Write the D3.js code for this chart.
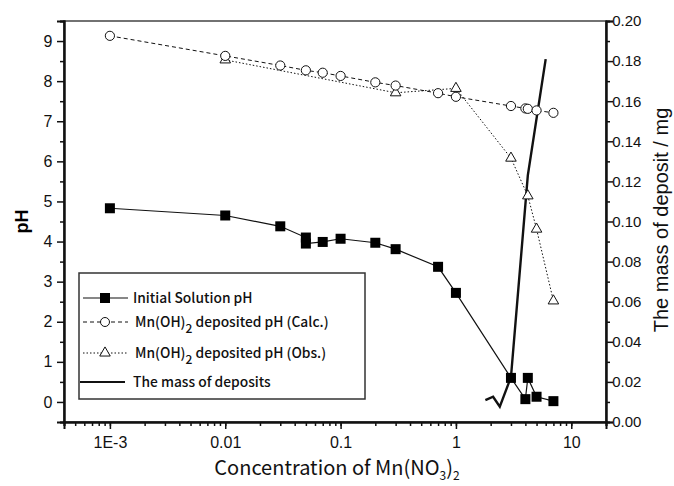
<!DOCTYPE html>
<html>
<head>
<meta charset="utf-8">
<script src="https://cdn.jsdelivr.net/npm/d3@7"></script>
<style>
body{margin:0;background:#fff;}
svg{display:block;}
</style>
</head>
<body>
<svg id="c" width="674" height="486"></svg>
<script>
// ---- data ----
const xInit = [0.001,0.01,0.03,0.05,0.05,0.07,0.1,0.2,0.3,0.7,1,3,4,4.2,5,7];
const pHInit = [4.83,4.65,4.38,4.1,3.95,3.99,4.07,3.97,3.81,3.37,2.72,0.6,0.07,0.6,0.13,0.02];
const xCalc = [0.001,0.01,0.03,0.05,0.07,0.1,0.2,0.3,0.7,1,3,4,4.2,5,7];
const pHCalc = [9.13,8.63,8.39,8.27,8.21,8.13,7.97,7.89,7.70,7.61,7.38,7.32,7.31,7.27,7.21];
const xObs = [0.01,0.3,1,3,4.2,5,7];
const pHObs = [8.53,7.71,7.82,6.08,5.14,4.31,2.52];
const xMass = [1.8,2.1,2.4,3,4.2,6];
const massVals = [0.0109,0.0126,0.0076,0.0224,0.123,0.181];
const xTickVals = [0.001,0.01,0.1,1,10];
const xTickLabels = ["1E-3","0.01","0.1","1","10"];
const pHTicks = [0,1,2,3,4,5,6,7,8,9];
const massTicks = [0,0.02,0.04,0.06,0.08,0.10,0.12,0.14,0.16,0.18,0.20];
const legendLabels = ["Initial Solution pH","Mn(OH)|2| deposited pH (Calc.)","Mn(OH)|2| deposited pH (Obs.)","The mass of deposits"];

// ---- layout ----
const L=64, R=606, T=21, B=422;
const svg = d3.select("#c");
const x = d3.scaleLog().domain([4e-4,20]).range([L,R]);
const y = d3.scaleLinear().domain([-0.5,9.5]).range([B,T]);
const y2 = d3.scaleLinear().domain([0,0.2]).range([B,T]);
const tickFont = "Liberation Sans, Arial, sans-serif";
const legFont = "Noto Sans CJK JP, sans-serif";

// frame
svg.append("rect").attr("x",L).attr("y",T).attr("width",R-L).attr("height",B-T)
  .attr("fill","none").attr("stroke","#444").attr("stroke-width",1.5);

// x axis
const minorX = [];
for (let e=-4;e<=1;e++) for (let m=1;m<10;m++){const v=m*Math.pow(10,e); if(v>=4e-4&&v<=20) minorX.push(v);}
const gx = svg.append("g").attr("transform",`translate(0,${B})`);
gx.call(d3.axisBottom(x).tickValues(minorX).tickSize(4).tickFormat(""));
gx.append("g").call(d3.axisBottom(x).tickValues(xTickVals).tickSize(7).tickFormat((d,i)=>xTickLabels[i]));
gx.selectAll(".domain").attr("stroke","#111").attr("stroke-width",2);
gx.selectAll("line").attr("stroke","#111").attr("stroke-width",1.5);
gx.selectAll("text").attr("font-family",tickFont).attr("font-size",16).attr("fill","#111").attr("dy","1.0em");

// left axis
const gy = svg.append("g").attr("transform",`translate(${L},0)`);
gy.call(d3.axisLeft(y).tickValues(d3.range(-0.5,9.51,0.5).filter(v=>v%1!==0)).tickSize(4).tickFormat(""));
gy.append("g").call(d3.axisLeft(y).tickValues(pHTicks).tickSize(7).tickFormat(d3.format("d")));
gy.selectAll(".domain").attr("stroke","#111").attr("stroke-width",2);
gy.selectAll("line").attr("stroke","#111").attr("stroke-width",1.5);
gy.selectAll("text").attr("font-family",tickFont).attr("font-size",16).attr("fill","#111").attr("dx","-0.1em");

// right axis
const gy2 = svg.append("g").attr("transform",`translate(${R},0)`);
gy2.call(d3.axisRight(y2).tickValues(d3.range(0.01,0.2,0.02)).tickSize(4).tickFormat(""));
gy2.append("g").call(d3.axisRight(y2).tickValues(massTicks).tickSize(7).tickFormat(d3.format(".2f")));
gy2.selectAll(".domain").attr("stroke","#111").attr("stroke-width",2);
gy2.selectAll("line").attr("stroke","#111").attr("stroke-width",1.5);
gy2.selectAll("text").attr("font-family",tickFont).attr("font-size",15).attr("fill","#111").attr("dx","-0.25em");

// axis titles
svg.append("text").attr("x",22).attr("y",(T+B)/2).attr("transform",`rotate(-90,22,${(T+B)/2})`)
  .attr("text-anchor","middle").attr("dy","0.35em").attr("font-family",tickFont).attr("font-weight","bold")
  .attr("font-size",18).text("pH");
svg.append("text").attr("x",661).attr("y",220).attr("transform",`rotate(-90,661,220)`)
  .attr("text-anchor","middle").attr("dy","0.35em").attr("font-family",tickFont)
  .attr("font-size",20).attr("fill","#111").text("The mass of deposit / mg");
const xt = svg.append("text").attr("x",337).attr("y",475).attr("text-anchor","middle")
  .attr("font-family",legFont).attr("font-size",20).attr("fill","#111");
xt.append("tspan").text("Concentration of Mn(NO");
xt.append("tspan").attr("font-size",12).attr("dy",5).text("3");
xt.append("tspan").attr("dy",-5).text(")");
xt.append("tspan").attr("font-size",12).attr("dy",5).text("2");

// lines
const zip = (xs,ys)=>xs.map((v,i)=>[v,ys[i]]);
const line = d3.line().x(d=>x(d[0])).y(d=>y(d[1]));
const line2 = d3.line().x(d=>x(d[0])).y(d=>y2(d[1]));
const dInit = zip(xInit,pHInit), dCalc=zip(xCalc,pHCalc), dObs=zip(xObs,pHObs), dMass=zip(xMass,massVals);

svg.append("path").datum(dCalc).attr("d",line).attr("fill","none").attr("stroke","#111").attr("stroke-width",1).attr("stroke-dasharray","4,3");
svg.append("path").datum(dObs).attr("d",line).attr("fill","none").attr("stroke","#111").attr("stroke-width",1).attr("stroke-dasharray","1.5,2");
svg.append("path").datum(dInit).attr("d",line).attr("fill","none").attr("stroke","#111").attr("stroke-width",1.2);
svg.append("path").datum(dMass).attr("d",line2).attr("fill","none").attr("stroke","#111").attr("stroke-width",2.4);

const tri = d3.symbol().type(d3.symbolTriangle).size(48);
svg.append("g").selectAll("path").data(dObs).join("path")
  .attr("transform",d=>`translate(${x(d[0])},${y(d[1])})`).attr("d",tri)
  .attr("fill","#fff").attr("stroke","#111").attr("stroke-width",1);
svg.append("g").selectAll("circle").data(dCalc).join("circle")
  .attr("cx",d=>x(d[0])).attr("cy",d=>y(d[1])).attr("r",4.6)
  .attr("fill","#fff").attr("stroke","#111").attr("stroke-width",1);
svg.append("g").selectAll("rect").data(dInit).join("rect")
  .attr("x",d=>x(d[0])-5).attr("y",d=>y(d[1])-5).attr("width",10).attr("height",10).attr("fill","#000");

// legend
const lg = svg.append("g");
lg.append("rect").attr("x",79).attr("y",273).attr("width",286).attr("height",126)
  .attr("fill","#fff").attr("stroke","#333").attr("stroke-width",1.5);
const rows = [298,322,353,382];
const styles = [{dash:null,w:1.2},{dash:"4,3",w:1},{dash:"1.5,2",w:1},{dash:null,w:2}];
rows.forEach((ry,i)=>{
  lg.append("line").attr("x1",i===3?80:83).attr("x2",i===3?125:128).attr("y1",ry).attr("y2",ry)
    .attr("stroke","#111").attr("stroke-width",styles[i].w).attr("stroke-dasharray",styles[i].dash);
  if(i===0) lg.append("rect").attr("x",100).attr("y",ry-5).attr("width",10).attr("height",10).attr("fill","#000");
  if(i===1) lg.append("circle").attr("cx",105).attr("cy",ry).attr("r",4.5).attr("fill","#fff").attr("stroke","#111");
  if(i===2) lg.append("path").attr("transform",`translate(105,${ry})`).attr("d",tri).attr("fill","#fff").attr("stroke","#111");
  const parts = legendLabels[i].split("|");
  const t = lg.append("text").attr("x",i===0||i===3?133:135).attr("y",ry).attr("dy","0.35em")
    .attr("font-family",legFont).attr("font-size",13.8).attr("font-weight",500).attr("fill","#111");
  if(parts.length===1) t.text(parts[0]);
  else {
    t.append("tspan").text(parts[0]);
    t.append("tspan").attr("font-size",12).attr("dy",6).text(parts[1]);
    t.append("tspan").attr("dy",-6).text(parts[2]);
  }
});
</script>
</body>
</html>
